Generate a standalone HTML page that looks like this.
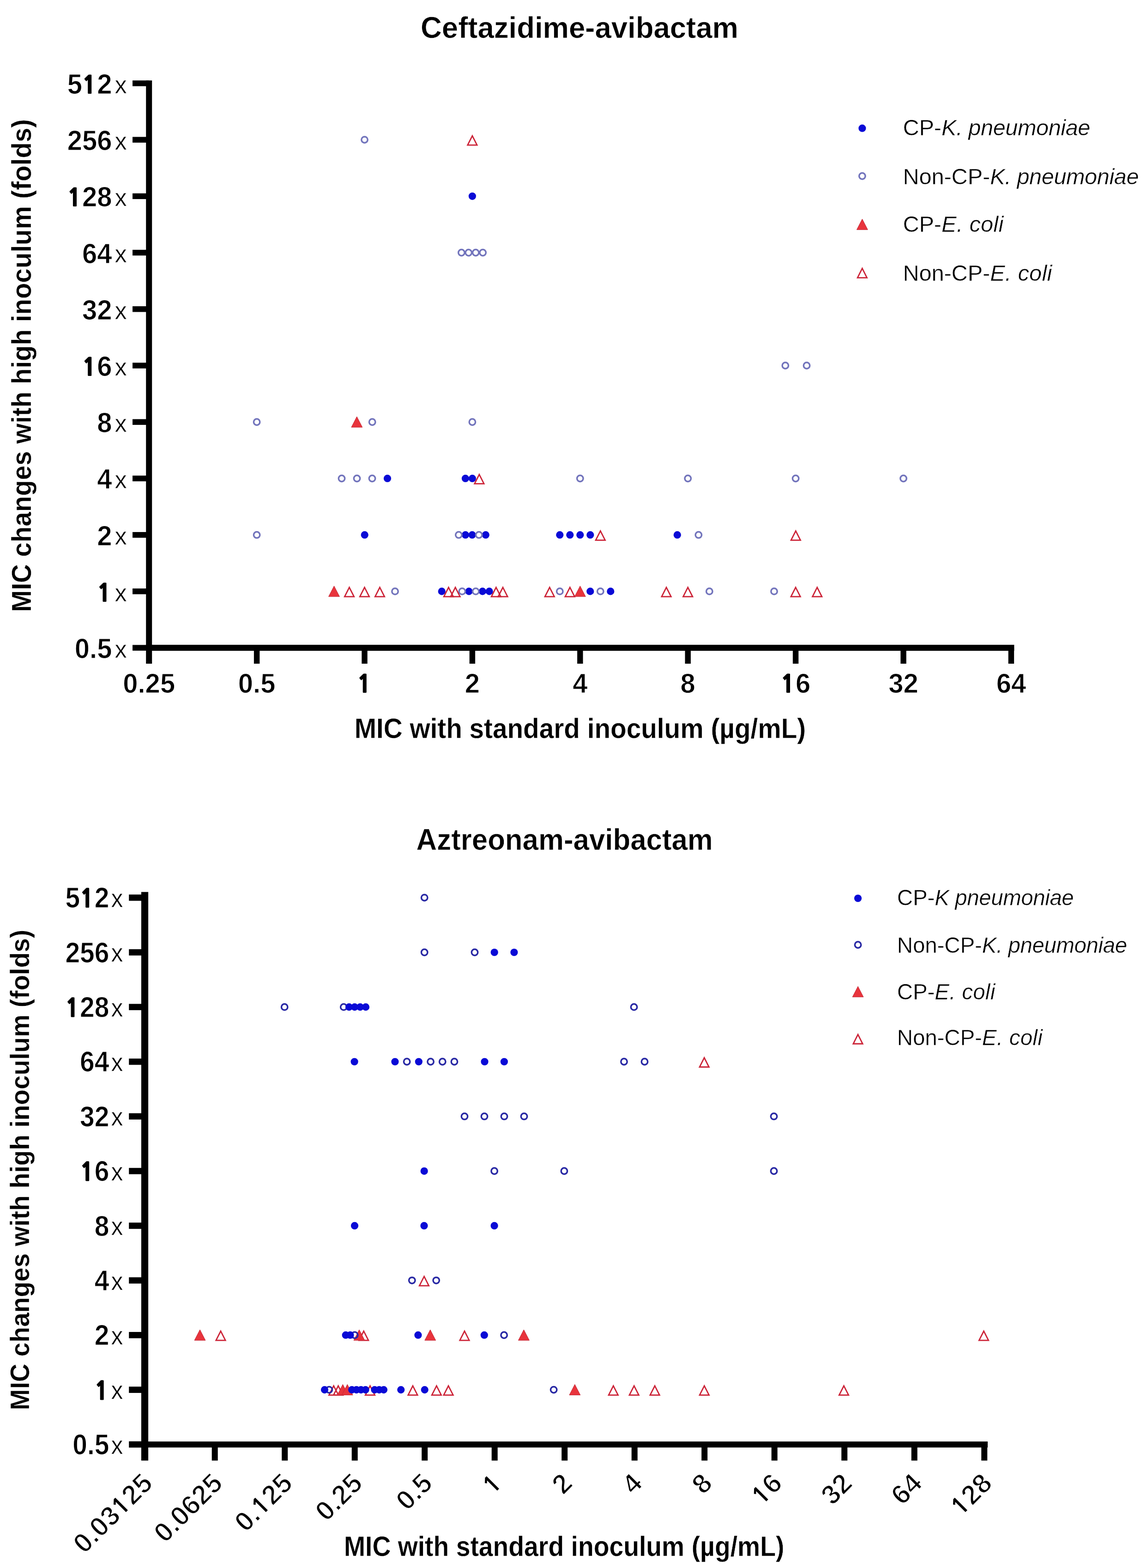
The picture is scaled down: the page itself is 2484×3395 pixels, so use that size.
<!DOCTYPE html>
<html><head><meta charset="utf-8"><title>MIC inoculum effect</title>
<style>
html,body{margin:0;padding:0;background:#fff;}
svg{display:block;}
svg text{font-family:'Liberation Sans', sans-serif;fill:#000;}
svg tspan.one{font-family:'NanumGothic','Liberation Sans',sans-serif;font-weight:800;stroke:#000;stroke-width:1.2px;letter-spacing:1.8px;baseline-shift:1.1px;}
svg tspan.one2{stroke:#fff;stroke-width:1.3px;}
</style></head>
<body>
<svg width="2484" height="3395" viewBox="0 0 2484 3395">
<rect width="2484" height="3395" fill="#fff"/>
<g id="plot1">
<text stroke="#fff" stroke-width="0.6" transform="translate(1255,81.9) scale(1,1.02)" font-size="63.5" font-weight="bold" text-anchor="middle">Ceftazidime-avibactam</text>
<text stroke="#fff" stroke-width="0.4" transform="translate(67,791.4) rotate(-90) scale(1,1.043)" font-size="56.5" font-weight="bold" text-anchor="middle">MIC changes with high inoculum (folds)</text>
<text stroke="#fff" stroke-width="0.4" transform="translate(1256.5,1598.2) scale(1,1.063)" font-size="56.7" font-weight="bold" text-anchor="middle">MIC with standard inoculum (µg/mL)</text>
<rect x="316.2" y="174.2" width="13" height="1262.8" fill="#000"/>
<rect x="316.2" y="1396.1" width="1880.2" height="13" fill="#000"/>
<rect x="287" y="1396.4" width="35.7" height="12.4" fill="#000"/>
<rect x="287" y="1274.18" width="35.7" height="12.4" fill="#000"/>
<rect x="287" y="1151.96" width="35.7" height="12.4" fill="#000"/>
<rect x="287" y="1029.74" width="35.7" height="12.4" fill="#000"/>
<rect x="287" y="907.52" width="35.7" height="12.4" fill="#000"/>
<rect x="287" y="785.3" width="35.7" height="12.4" fill="#000"/>
<rect x="287" y="663.08" width="35.7" height="12.4" fill="#000"/>
<rect x="287" y="540.86" width="35.7" height="12.4" fill="#000"/>
<rect x="287" y="418.64" width="35.7" height="12.4" fill="#000"/>
<rect x="287" y="296.42" width="35.7" height="12.4" fill="#000"/>
<rect x="287" y="174.2" width="35.7" height="12.4" fill="#000"/>
<rect x="549.9" y="1402" width="12.4" height="35" fill="#000"/>
<rect x="783.3" y="1402" width="12.4" height="35" fill="#000"/>
<rect x="1016.7" y="1402" width="12.4" height="35" fill="#000"/>
<rect x="1250.1" y="1402" width="12.4" height="35" fill="#000"/>
<rect x="1483.5" y="1402" width="12.4" height="35" fill="#000"/>
<rect x="1716.9" y="1402" width="12.4" height="35" fill="#000"/>
<rect x="1950.3" y="1402" width="12.4" height="35" fill="#000"/>
<rect x="2183.7" y="1402" width="12.4" height="35" fill="#000"/>
<text stroke="#fff" stroke-width="1" transform="translate(242.4,1425.1) scale(1,1.04)" font-size="58" font-weight="bold" text-anchor="end">0.5</text>
<text stroke="#fff" stroke-width="0.6" transform="translate(248.5,1423.9) scale(1,1.03)" font-size="52.5" font-weight="normal" text-anchor="start">x</text>
<text stroke="#fff" stroke-width="1" transform="translate(242.4,1302.88) scale(1,1.04)" font-size="58" font-weight="bold" text-anchor="end"><tspan class="one" font-size="50.17">1</tspan></text>
<text stroke="#fff" stroke-width="0.6" transform="translate(248.5,1301.68) scale(1,1.03)" font-size="52.5" font-weight="normal" text-anchor="start">x</text>
<text stroke="#fff" stroke-width="1" transform="translate(242.4,1180.66) scale(1,1.04)" font-size="58" font-weight="bold" text-anchor="end">2</text>
<text stroke="#fff" stroke-width="0.6" transform="translate(248.5,1179.46) scale(1,1.03)" font-size="52.5" font-weight="normal" text-anchor="start">x</text>
<text stroke="#fff" stroke-width="1" transform="translate(242.4,1058.44) scale(1,1.04)" font-size="58" font-weight="bold" text-anchor="end">4</text>
<text stroke="#fff" stroke-width="0.6" transform="translate(248.5,1057.24) scale(1,1.03)" font-size="52.5" font-weight="normal" text-anchor="start">x</text>
<text stroke="#fff" stroke-width="1" transform="translate(242.4,936.22) scale(1,1.04)" font-size="58" font-weight="bold" text-anchor="end">8</text>
<text stroke="#fff" stroke-width="0.6" transform="translate(248.5,935.02) scale(1,1.03)" font-size="52.5" font-weight="normal" text-anchor="start">x</text>
<text stroke="#fff" stroke-width="1" transform="translate(242.4,814) scale(1,1.04)" font-size="58" font-weight="bold" text-anchor="end"><tspan class="one" font-size="50.17">1</tspan>6</text>
<text stroke="#fff" stroke-width="0.6" transform="translate(248.5,812.8) scale(1,1.03)" font-size="52.5" font-weight="normal" text-anchor="start">x</text>
<text stroke="#fff" stroke-width="1" transform="translate(242.4,691.78) scale(1,1.04)" font-size="58" font-weight="bold" text-anchor="end">32</text>
<text stroke="#fff" stroke-width="0.6" transform="translate(248.5,690.58) scale(1,1.03)" font-size="52.5" font-weight="normal" text-anchor="start">x</text>
<text stroke="#fff" stroke-width="1" transform="translate(242.4,569.56) scale(1,1.04)" font-size="58" font-weight="bold" text-anchor="end">64</text>
<text stroke="#fff" stroke-width="0.6" transform="translate(248.5,568.36) scale(1,1.03)" font-size="52.5" font-weight="normal" text-anchor="start">x</text>
<text stroke="#fff" stroke-width="1" transform="translate(242.4,447.34) scale(1,1.04)" font-size="58" font-weight="bold" text-anchor="end"><tspan class="one" font-size="50.17">1</tspan>28</text>
<text stroke="#fff" stroke-width="0.6" transform="translate(248.5,446.14) scale(1,1.03)" font-size="52.5" font-weight="normal" text-anchor="start">x</text>
<text stroke="#fff" stroke-width="1" transform="translate(242.4,325.12) scale(1,1.04)" font-size="58" font-weight="bold" text-anchor="end">256</text>
<text stroke="#fff" stroke-width="0.6" transform="translate(248.5,323.92) scale(1,1.03)" font-size="52.5" font-weight="normal" text-anchor="start">x</text>
<text stroke="#fff" stroke-width="1" transform="translate(242.4,202.9) scale(1,1.04)" font-size="58" font-weight="bold" text-anchor="end">5<tspan class="one" font-size="50.17">1</tspan>2</text>
<text stroke="#fff" stroke-width="0.6" transform="translate(248.5,201.7) scale(1,1.03)" font-size="52.5" font-weight="normal" text-anchor="start">x</text>
<text stroke="#fff" stroke-width="1" transform="translate(322.7,1499.8) scale(1,1.035)" font-size="58" font-weight="bold" text-anchor="middle">0.25</text>
<text stroke="#fff" stroke-width="1" transform="translate(556.1,1499.8) scale(1,1.035)" font-size="58" font-weight="bold" text-anchor="middle">0.5</text>
<text stroke="#fff" stroke-width="1" transform="translate(789.5,1499.8) scale(1,1.035)" font-size="58" font-weight="bold" text-anchor="middle"><tspan class="one" font-size="50.17">1</tspan></text>
<text stroke="#fff" stroke-width="1" transform="translate(1022.9,1499.8) scale(1,1.035)" font-size="58" font-weight="bold" text-anchor="middle">2</text>
<text stroke="#fff" stroke-width="1" transform="translate(1256.3,1499.8) scale(1,1.035)" font-size="58" font-weight="bold" text-anchor="middle">4</text>
<text stroke="#fff" stroke-width="1" transform="translate(1489.7,1499.8) scale(1,1.035)" font-size="58" font-weight="bold" text-anchor="middle">8</text>
<text stroke="#fff" stroke-width="1" transform="translate(1723.1,1499.8) scale(1,1.035)" font-size="58" font-weight="bold" text-anchor="middle"><tspan class="one" font-size="50.17">1</tspan>6</text>
<text stroke="#fff" stroke-width="1" transform="translate(1956.5,1499.8) scale(1,1.035)" font-size="58" font-weight="bold" text-anchor="middle">32</text>
<text stroke="#fff" stroke-width="1" transform="translate(2189.9,1499.8) scale(1,1.035)" font-size="58" font-weight="bold" text-anchor="middle">64</text>
<circle cx="1022.9" cy="424.84" r="8.1" fill="#0a0ad6"/>
<circle cx="839" cy="1035.94" r="8.1" fill="#0a0ad6"/>
<circle cx="1007.9" cy="1035.94" r="8.1" fill="#0a0ad6"/>
<circle cx="1022.9" cy="1035.94" r="8.1" fill="#0a0ad6"/>
<circle cx="789.7" cy="1158.16" r="8.1" fill="#0a0ad6"/>
<circle cx="1008" cy="1158.16" r="8.1" fill="#0a0ad6"/>
<circle cx="1022.6" cy="1158.16" r="8.1" fill="#0a0ad6"/>
<circle cx="1051.8" cy="1158.16" r="8.1" fill="#0a0ad6"/>
<circle cx="1212.3" cy="1158.16" r="8.1" fill="#0a0ad6"/>
<circle cx="1234.3" cy="1158.16" r="8.1" fill="#0a0ad6"/>
<circle cx="1256.3" cy="1158.16" r="8.1" fill="#0a0ad6"/>
<circle cx="1278.3" cy="1158.16" r="8.1" fill="#0a0ad6"/>
<circle cx="1466.8" cy="1158.16" r="8.1" fill="#0a0ad6"/>
<circle cx="956.75" cy="1280.38" r="8.1" fill="#0a0ad6"/>
<circle cx="1015.55" cy="1280.38" r="8.1" fill="#0a0ad6"/>
<circle cx="1044.95" cy="1280.38" r="8.1" fill="#0a0ad6"/>
<circle cx="1059.65" cy="1280.38" r="8.1" fill="#0a0ad6"/>
<circle cx="1278.3" cy="1280.38" r="8.1" fill="#0a0ad6"/>
<circle cx="1322.3" cy="1280.38" r="8.1" fill="#0a0ad6"/>
<circle cx="789.5" cy="302.62" r="6.7" fill="none" stroke="#7274bc" stroke-width="3.5"/>
<circle cx="999.4" cy="547.06" r="6.7" fill="none" stroke="#7274bc" stroke-width="3.5"/>
<circle cx="1014.8" cy="547.06" r="6.7" fill="none" stroke="#7274bc" stroke-width="3.5"/>
<circle cx="1030.2" cy="547.06" r="6.7" fill="none" stroke="#7274bc" stroke-width="3.5"/>
<circle cx="1045.6" cy="547.06" r="6.7" fill="none" stroke="#7274bc" stroke-width="3.5"/>
<circle cx="1700.8" cy="791.5" r="6.7" fill="none" stroke="#7274bc" stroke-width="3.5"/>
<circle cx="1747" cy="791.5" r="6.7" fill="none" stroke="#7274bc" stroke-width="3.5"/>
<circle cx="556.1" cy="913.72" r="6.7" fill="none" stroke="#7274bc" stroke-width="3.5"/>
<circle cx="806.2" cy="913.72" r="6.7" fill="none" stroke="#7274bc" stroke-width="3.5"/>
<circle cx="1022.9" cy="913.72" r="6.7" fill="none" stroke="#7274bc" stroke-width="3.5"/>
<circle cx="740" cy="1035.94" r="6.7" fill="none" stroke="#7274bc" stroke-width="3.5"/>
<circle cx="773" cy="1035.94" r="6.7" fill="none" stroke="#7274bc" stroke-width="3.5"/>
<circle cx="806" cy="1035.94" r="6.7" fill="none" stroke="#7274bc" stroke-width="3.5"/>
<circle cx="1256.3" cy="1035.94" r="6.7" fill="none" stroke="#7274bc" stroke-width="3.5"/>
<circle cx="1489.7" cy="1035.94" r="6.7" fill="none" stroke="#7274bc" stroke-width="3.5"/>
<circle cx="1723.1" cy="1035.94" r="6.7" fill="none" stroke="#7274bc" stroke-width="3.5"/>
<circle cx="1956.5" cy="1035.94" r="6.7" fill="none" stroke="#7274bc" stroke-width="3.5"/>
<circle cx="556.1" cy="1158.16" r="6.7" fill="none" stroke="#7274bc" stroke-width="3.5"/>
<circle cx="993.4" cy="1158.16" r="6.7" fill="none" stroke="#7274bc" stroke-width="3.5"/>
<circle cx="1037.2" cy="1158.16" r="6.7" fill="none" stroke="#7274bc" stroke-width="3.5"/>
<circle cx="1512.8" cy="1158.16" r="6.7" fill="none" stroke="#7274bc" stroke-width="3.5"/>
<circle cx="855.5" cy="1280.38" r="6.7" fill="none" stroke="#7274bc" stroke-width="3.5"/>
<circle cx="1000.85" cy="1280.38" r="6.7" fill="none" stroke="#7274bc" stroke-width="3.5"/>
<circle cx="1030.25" cy="1280.38" r="6.7" fill="none" stroke="#7274bc" stroke-width="3.5"/>
<circle cx="1212.3" cy="1280.38" r="6.7" fill="none" stroke="#7274bc" stroke-width="3.5"/>
<circle cx="1300.3" cy="1280.38" r="6.7" fill="none" stroke="#7274bc" stroke-width="3.5"/>
<circle cx="1536.3" cy="1280.38" r="6.7" fill="none" stroke="#7274bc" stroke-width="3.5"/>
<circle cx="1676.5" cy="1280.38" r="6.7" fill="none" stroke="#7274bc" stroke-width="3.5"/>
<polygon points="1022.9,294.02 1033.1,314.12 1012.7,314.12" fill="none" stroke="#cc2438" stroke-width="2.8" stroke-linejoin="miter"/>
<polygon points="1037.9,1027.34 1048.1,1047.44 1027.7,1047.44" fill="none" stroke="#cc2438" stroke-width="2.8" stroke-linejoin="miter"/>
<polygon points="1300.3,1149.56 1310.5,1169.66 1290.1,1169.66" fill="none" stroke="#cc2438" stroke-width="2.8" stroke-linejoin="miter"/>
<polygon points="1723.3,1149.56 1733.5,1169.66 1713.1,1169.66" fill="none" stroke="#cc2438" stroke-width="2.8" stroke-linejoin="miter"/>
<polygon points="756.5,1271.78 766.7,1291.88 746.3,1291.88" fill="none" stroke="#cc2438" stroke-width="2.8" stroke-linejoin="miter"/>
<polygon points="789.5,1271.78 799.7,1291.88 779.3,1291.88" fill="none" stroke="#cc2438" stroke-width="2.8" stroke-linejoin="miter"/>
<polygon points="822.5,1271.78 832.7,1291.88 812.3,1291.88" fill="none" stroke="#cc2438" stroke-width="2.8" stroke-linejoin="miter"/>
<polygon points="971.45,1271.78 981.65,1291.88 961.25,1291.88" fill="none" stroke="#cc2438" stroke-width="2.8" stroke-linejoin="miter"/>
<polygon points="986.15,1271.78 996.35,1291.88 975.95,1291.88" fill="none" stroke="#cc2438" stroke-width="2.8" stroke-linejoin="miter"/>
<polygon points="1074.35,1271.78 1084.55,1291.88 1064.15,1291.88" fill="none" stroke="#cc2438" stroke-width="2.8" stroke-linejoin="miter"/>
<polygon points="1089.05,1271.78 1099.25,1291.88 1078.85,1291.88" fill="none" stroke="#cc2438" stroke-width="2.8" stroke-linejoin="miter"/>
<polygon points="1190.3,1271.78 1200.5,1291.88 1180.1,1291.88" fill="none" stroke="#cc2438" stroke-width="2.8" stroke-linejoin="miter"/>
<polygon points="1234.3,1271.78 1244.5,1291.88 1224.1,1291.88" fill="none" stroke="#cc2438" stroke-width="2.8" stroke-linejoin="miter"/>
<polygon points="1443.1,1271.78 1453.3,1291.88 1432.9,1291.88" fill="none" stroke="#cc2438" stroke-width="2.8" stroke-linejoin="miter"/>
<polygon points="1489.7,1271.78 1499.9,1291.88 1479.5,1291.88" fill="none" stroke="#cc2438" stroke-width="2.8" stroke-linejoin="miter"/>
<polygon points="1723.1,1271.78 1733.3,1291.88 1712.9,1291.88" fill="none" stroke="#cc2438" stroke-width="2.8" stroke-linejoin="miter"/>
<polygon points="1769.7,1271.78 1779.9,1291.88 1759.5,1291.88" fill="none" stroke="#cc2438" stroke-width="2.8" stroke-linejoin="miter"/>
<polygon points="772.8,902.12 784.7,925.12 760.9,925.12" fill="#e8343c" stroke="#c42a3a" stroke-width="1" stroke-linejoin="miter"/>
<polygon points="723.5,1268.78 735.4,1291.78 711.6,1291.78" fill="#e8343c" stroke="#c42a3a" stroke-width="1" stroke-linejoin="miter"/>
<polygon points="1256.3,1268.78 1268.2,1291.78 1244.4,1291.78" fill="#e8343c" stroke="#c42a3a" stroke-width="1" stroke-linejoin="miter"/>
<circle cx="1867.3" cy="277.7" r="8.1" fill="#0a0ad6"/>
<text stroke="#fff" stroke-width="0.5" transform="translate(1955.5,293.2)" font-size="48.5" font-weight="normal" text-anchor="start">CP-<tspan font-style="italic" letter-spacing="-0.33">K. pneumoniae</tspan></text>
<circle cx="1867.3" cy="381.3" r="6.7" fill="none" stroke="#7274bc" stroke-width="3.5"/>
<text stroke="#fff" stroke-width="0.5" transform="translate(1955.5,399.3)" font-size="48.5" font-weight="normal" text-anchor="start">Non-CP-<tspan font-style="italic" letter-spacing="-0.33">K. pneumoniae</tspan></text>
<polygon points="1867.3,474.3 1879.2,497.3 1855.4,497.3" fill="#e8343c" stroke="#c42a3a" stroke-width="1" stroke-linejoin="miter"/>
<text stroke="#fff" stroke-width="0.5" transform="translate(1955.5,502)" font-size="48.5" font-weight="normal" text-anchor="start">CP-<tspan font-style="italic" letter-spacing="0.35">E. coli</tspan></text>
<polygon points="1867.3,581.2 1877.5,601.3 1857.1,601.3" fill="none" stroke="#cc2438" stroke-width="2.8" stroke-linejoin="miter"/>
<text stroke="#fff" stroke-width="0.5" transform="translate(1955.5,607.5)" font-size="48.5" font-weight="normal" text-anchor="start">Non-CP-<tspan font-style="italic" letter-spacing="0.35">E. coli</tspan></text>
</g>
<g id="plot2">
<text stroke="#fff" stroke-width="0.6" transform="translate(1222.7,1840.3) scale(1,1.05)" font-size="61.8" font-weight="bold" text-anchor="middle">Aztreonam-avibactam</text>
<text stroke="#fff" stroke-width="0.4" transform="translate(62.7,2533.2) rotate(-90) scale(1,1.053)" font-size="55.1" font-weight="bold" text-anchor="middle">MIC changes with high inoculum (folds)</text>
<text stroke="#fff" stroke-width="0.4" transform="translate(1221.7,3368.7) scale(1,1.108)" font-size="55.3" font-weight="bold" text-anchor="middle">MIC with standard inoculum (µg/mL)</text>
<rect x="305.9" y="1931.3" width="15.2" height="1231.1" fill="#000"/>
<rect x="305.9" y="3121.1" width="1833.1" height="13" fill="#000"/>
<rect x="279.2" y="3120.7" width="26.8" height="13.6" fill="#000"/>
<rect x="279.2" y="3002.31" width="26.8" height="13.6" fill="#000"/>
<rect x="279.2" y="2883.92" width="26.8" height="13.6" fill="#000"/>
<rect x="279.2" y="2765.53" width="26.8" height="13.6" fill="#000"/>
<rect x="279.2" y="2647.14" width="26.8" height="13.6" fill="#000"/>
<rect x="279.2" y="2528.75" width="26.8" height="13.6" fill="#000"/>
<rect x="279.2" y="2410.36" width="26.8" height="13.6" fill="#000"/>
<rect x="279.2" y="2291.97" width="26.8" height="13.6" fill="#000"/>
<rect x="279.2" y="2173.58" width="26.8" height="13.6" fill="#000"/>
<rect x="279.2" y="2055.19" width="26.8" height="13.6" fill="#000"/>
<rect x="279.2" y="1936.8" width="26.8" height="13.6" fill="#000"/>
<rect x="458.7" y="3127" width="13" height="35.4" fill="#000"/>
<rect x="610.2" y="3127" width="13" height="35.4" fill="#000"/>
<rect x="761.7" y="3127" width="13" height="35.4" fill="#000"/>
<rect x="913.2" y="3127" width="13" height="35.4" fill="#000"/>
<rect x="1064.7" y="3127" width="13" height="35.4" fill="#000"/>
<rect x="1216.2" y="3127" width="13" height="35.4" fill="#000"/>
<rect x="1367.7" y="3127" width="13" height="35.4" fill="#000"/>
<rect x="1519.2" y="3127" width="13" height="35.4" fill="#000"/>
<rect x="1670.7" y="3127" width="13" height="35.4" fill="#000"/>
<rect x="1822.2" y="3127" width="13" height="35.4" fill="#000"/>
<rect x="1973.7" y="3127" width="13" height="35.4" fill="#000"/>
<rect x="2125.2" y="3127" width="13" height="35.4" fill="#000"/>
<text stroke="#fff" stroke-width="1" transform="translate(236.5,3149.2) scale(1,1.09)" font-size="57" font-weight="bold" text-anchor="end">0.5</text>
<text stroke="#fff" stroke-width="0.6" transform="translate(240.5,3147.8) scale(1,1.05)" font-size="52" font-weight="normal" text-anchor="start">x</text>
<text stroke="#fff" stroke-width="1" transform="translate(236.5,3030.81) scale(1,1.09)" font-size="57" font-weight="bold" text-anchor="end"><tspan class="one" font-size="49.3">1</tspan></text>
<text stroke="#fff" stroke-width="0.6" transform="translate(240.5,3029.41) scale(1,1.05)" font-size="52" font-weight="normal" text-anchor="start">x</text>
<text stroke="#fff" stroke-width="1" transform="translate(236.5,2912.42) scale(1,1.09)" font-size="57" font-weight="bold" text-anchor="end">2</text>
<text stroke="#fff" stroke-width="0.6" transform="translate(240.5,2911.02) scale(1,1.05)" font-size="52" font-weight="normal" text-anchor="start">x</text>
<text stroke="#fff" stroke-width="1" transform="translate(236.5,2794.03) scale(1,1.09)" font-size="57" font-weight="bold" text-anchor="end">4</text>
<text stroke="#fff" stroke-width="0.6" transform="translate(240.5,2792.63) scale(1,1.05)" font-size="52" font-weight="normal" text-anchor="start">x</text>
<text stroke="#fff" stroke-width="1" transform="translate(236.5,2675.64) scale(1,1.09)" font-size="57" font-weight="bold" text-anchor="end">8</text>
<text stroke="#fff" stroke-width="0.6" transform="translate(240.5,2674.24) scale(1,1.05)" font-size="52" font-weight="normal" text-anchor="start">x</text>
<text stroke="#fff" stroke-width="1" transform="translate(236.5,2557.25) scale(1,1.09)" font-size="57" font-weight="bold" text-anchor="end"><tspan class="one" font-size="49.3">1</tspan>6</text>
<text stroke="#fff" stroke-width="0.6" transform="translate(240.5,2555.85) scale(1,1.05)" font-size="52" font-weight="normal" text-anchor="start">x</text>
<text stroke="#fff" stroke-width="1" transform="translate(236.5,2438.86) scale(1,1.09)" font-size="57" font-weight="bold" text-anchor="end">32</text>
<text stroke="#fff" stroke-width="0.6" transform="translate(240.5,2437.46) scale(1,1.05)" font-size="52" font-weight="normal" text-anchor="start">x</text>
<text stroke="#fff" stroke-width="1" transform="translate(236.5,2320.47) scale(1,1.09)" font-size="57" font-weight="bold" text-anchor="end">64</text>
<text stroke="#fff" stroke-width="0.6" transform="translate(240.5,2319.07) scale(1,1.05)" font-size="52" font-weight="normal" text-anchor="start">x</text>
<text stroke="#fff" stroke-width="1" transform="translate(236.5,2202.08) scale(1,1.09)" font-size="57" font-weight="bold" text-anchor="end"><tspan class="one" font-size="49.3">1</tspan>28</text>
<text stroke="#fff" stroke-width="0.6" transform="translate(240.5,2200.68) scale(1,1.05)" font-size="52" font-weight="normal" text-anchor="start">x</text>
<text stroke="#fff" stroke-width="1" transform="translate(236.5,2083.69) scale(1,1.09)" font-size="57" font-weight="bold" text-anchor="end">256</text>
<text stroke="#fff" stroke-width="0.6" transform="translate(240.5,2082.29) scale(1,1.05)" font-size="52" font-weight="normal" text-anchor="start">x</text>
<text stroke="#fff" stroke-width="1" transform="translate(236.5,1965.3) scale(1,1.09)" font-size="57" font-weight="bold" text-anchor="end">5<tspan class="one" font-size="49.3">1</tspan>2</text>
<text stroke="#fff" stroke-width="0.6" transform="translate(240.5,1963.9) scale(1,1.05)" font-size="52" font-weight="normal" text-anchor="start">x</text>
<text stroke="#fff" stroke-width="2.2" transform="translate(334,3215) rotate(-45)" font-size="59.2" font-weight="bold" text-anchor="end">0.03<tspan class="one one2" font-size="51.21">1</tspan>25</text>
<text stroke="#fff" stroke-width="2.2" transform="translate(485.5,3215) rotate(-45)" font-size="59.2" font-weight="bold" text-anchor="end">0.0625</text>
<text stroke="#fff" stroke-width="2.2" transform="translate(637,3215) rotate(-45)" font-size="59.2" font-weight="bold" text-anchor="end">0.<tspan class="one one2" font-size="51.21">1</tspan>25</text>
<text stroke="#fff" stroke-width="2.2" transform="translate(788.5,3215) rotate(-45)" font-size="59.2" font-weight="bold" text-anchor="end">0.25</text>
<text stroke="#fff" stroke-width="2.2" transform="translate(940,3215) rotate(-45)" font-size="59.2" font-weight="bold" text-anchor="end">0.5</text>
<text stroke="#fff" stroke-width="2.2" transform="translate(1091.5,3215) rotate(-45)" font-size="59.2" font-weight="bold" text-anchor="end"><tspan class="one one2" font-size="51.21">1</tspan></text>
<text stroke="#fff" stroke-width="2.2" transform="translate(1243,3215) rotate(-45)" font-size="59.2" font-weight="bold" text-anchor="end">2</text>
<text stroke="#fff" stroke-width="2.2" transform="translate(1394.5,3215) rotate(-45)" font-size="59.2" font-weight="bold" text-anchor="end">4</text>
<text stroke="#fff" stroke-width="2.2" transform="translate(1546,3215) rotate(-45)" font-size="59.2" font-weight="bold" text-anchor="end">8</text>
<text stroke="#fff" stroke-width="2.2" transform="translate(1697.5,3215) rotate(-45)" font-size="59.2" font-weight="bold" text-anchor="end"><tspan class="one one2" font-size="51.21">1</tspan>6</text>
<text stroke="#fff" stroke-width="2.2" transform="translate(1849,3215) rotate(-45)" font-size="59.2" font-weight="bold" text-anchor="end">32</text>
<text stroke="#fff" stroke-width="2.2" transform="translate(2000.5,3215) rotate(-45)" font-size="59.2" font-weight="bold" text-anchor="end">64</text>
<text stroke="#fff" stroke-width="2.2" transform="translate(2152,3215) rotate(-45)" font-size="59.2" font-weight="bold" text-anchor="end"><tspan class="one one2" font-size="51.21">1</tspan>28</text>
<polygon points="1525.2,2290.17 1535.4,2310.27 1515,2310.27" fill="none" stroke="#cc2438" stroke-width="2.8" stroke-linejoin="miter"/>
<polygon points="918.5,2763.73 928.7,2783.83 908.3,2783.83" fill="none" stroke="#cc2438" stroke-width="2.8" stroke-linejoin="miter"/>
<polygon points="478,2882.12 488.2,2902.22 467.8,2902.22" fill="none" stroke="#cc2438" stroke-width="2.8" stroke-linejoin="miter"/>
<polygon points="787.7,2882.12 797.9,2902.22 777.5,2902.22" fill="none" stroke="#cc2438" stroke-width="2.8" stroke-linejoin="miter"/>
<polygon points="1006,2882.12 1016.2,2902.22 995.8,2902.22" fill="none" stroke="#cc2438" stroke-width="2.8" stroke-linejoin="miter"/>
<polygon points="2130.5,2882.12 2140.7,2902.22 2120.3,2902.22" fill="none" stroke="#cc2438" stroke-width="2.8" stroke-linejoin="miter"/>
<polygon points="722.67,3000.51 732.88,3020.61 712.47,3020.61" fill="none" stroke="#cc2438" stroke-width="2.8" stroke-linejoin="miter"/>
<polygon points="732.52,3000.51 742.73,3020.61 722.32,3020.61" fill="none" stroke="#cc2438" stroke-width="2.8" stroke-linejoin="miter"/>
<polygon points="801.48,3000.51 811.68,3020.61 791.27,3020.61" fill="none" stroke="#cc2438" stroke-width="2.8" stroke-linejoin="miter"/>
<polygon points="894,3000.51 904.2,3020.61 883.8,3020.61" fill="none" stroke="#cc2438" stroke-width="2.8" stroke-linejoin="miter"/>
<polygon points="945.4,3000.51 955.6,3020.61 935.2,3020.61" fill="none" stroke="#cc2438" stroke-width="2.8" stroke-linejoin="miter"/>
<polygon points="971.1,3000.51 981.3,3020.61 960.9,3020.61" fill="none" stroke="#cc2438" stroke-width="2.8" stroke-linejoin="miter"/>
<polygon points="1328.3,3000.51 1338.5,3020.61 1318.1,3020.61" fill="none" stroke="#cc2438" stroke-width="2.8" stroke-linejoin="miter"/>
<polygon points="1373.2,3000.51 1383.4,3020.61 1363,3020.61" fill="none" stroke="#cc2438" stroke-width="2.8" stroke-linejoin="miter"/>
<polygon points="1418.1,3000.51 1428.3,3020.61 1407.9,3020.61" fill="none" stroke="#cc2438" stroke-width="2.8" stroke-linejoin="miter"/>
<polygon points="1525.3,3000.51 1535.5,3020.61 1515.1,3020.61" fill="none" stroke="#cc2438" stroke-width="2.8" stroke-linejoin="miter"/>
<polygon points="1827.5,3000.51 1837.7,3020.61 1817.3,3020.61" fill="none" stroke="#cc2438" stroke-width="2.8" stroke-linejoin="miter"/>
<polygon points="433,2879.12 444.9,2902.12 421.1,2902.12" fill="#e8343c" stroke="#c42a3a" stroke-width="1" stroke-linejoin="miter"/>
<polygon points="777.95,2879.12 789.85,2902.12 766.05,2902.12" fill="#e8343c" stroke="#c42a3a" stroke-width="1" stroke-linejoin="miter"/>
<polygon points="931.75,2879.12 943.65,2902.12 919.85,2902.12" fill="#e8343c" stroke="#c42a3a" stroke-width="1" stroke-linejoin="miter"/>
<polygon points="1134.4,2879.12 1146.3,2902.12 1122.5,2902.12" fill="#e8343c" stroke="#c42a3a" stroke-width="1" stroke-linejoin="miter"/>
<polygon points="742.38,2997.51 754.27,3020.51 730.48,3020.51" fill="#e8343c" stroke="#c42a3a" stroke-width="1" stroke-linejoin="miter"/>
<polygon points="752.23,2997.51 764.12,3020.51 740.33,3020.51" fill="#e8343c" stroke="#c42a3a" stroke-width="1" stroke-linejoin="miter"/>
<polygon points="1244.85,2997.51 1256.75,3020.51 1232.95,3020.51" fill="#e8343c" stroke="#c42a3a" stroke-width="1" stroke-linejoin="miter"/>
<circle cx="919.2" cy="1943.6" r="6.7" fill="none" stroke="#2828a4" stroke-width="3.5"/>
<circle cx="919.2" cy="2061.99" r="6.7" fill="none" stroke="#2828a4" stroke-width="3.5"/>
<circle cx="1028" cy="2061.99" r="6.7" fill="none" stroke="#2828a4" stroke-width="3.5"/>
<circle cx="616.2" cy="2180.38" r="6.7" fill="none" stroke="#2828a4" stroke-width="3.5"/>
<circle cx="744.3" cy="2180.38" r="6.7" fill="none" stroke="#2828a4" stroke-width="3.5"/>
<circle cx="1373" cy="2180.38" r="6.7" fill="none" stroke="#2828a4" stroke-width="3.5"/>
<circle cx="881.15" cy="2298.77" r="6.7" fill="none" stroke="#2828a4" stroke-width="3.5"/>
<circle cx="932.55" cy="2298.77" r="6.7" fill="none" stroke="#2828a4" stroke-width="3.5"/>
<circle cx="958.25" cy="2298.77" r="6.7" fill="none" stroke="#2828a4" stroke-width="3.5"/>
<circle cx="983.95" cy="2298.77" r="6.7" fill="none" stroke="#2828a4" stroke-width="3.5"/>
<circle cx="1351.45" cy="2298.77" r="6.7" fill="none" stroke="#2828a4" stroke-width="3.5"/>
<circle cx="1395.95" cy="2298.77" r="6.7" fill="none" stroke="#2828a4" stroke-width="3.5"/>
<circle cx="1006" cy="2417.16" r="6.7" fill="none" stroke="#2828a4" stroke-width="3.5"/>
<circle cx="1049" cy="2417.16" r="6.7" fill="none" stroke="#2828a4" stroke-width="3.5"/>
<circle cx="1092" cy="2417.16" r="6.7" fill="none" stroke="#2828a4" stroke-width="3.5"/>
<circle cx="1135" cy="2417.16" r="6.7" fill="none" stroke="#2828a4" stroke-width="3.5"/>
<circle cx="1676" cy="2417.16" r="6.7" fill="none" stroke="#2828a4" stroke-width="3.5"/>
<circle cx="1070.6" cy="2535.55" r="6.7" fill="none" stroke="#2828a4" stroke-width="3.5"/>
<circle cx="1221.9" cy="2535.55" r="6.7" fill="none" stroke="#2828a4" stroke-width="3.5"/>
<circle cx="1676" cy="2535.55" r="6.7" fill="none" stroke="#2828a4" stroke-width="3.5"/>
<circle cx="892.3" cy="2772.33" r="6.7" fill="none" stroke="#2828a4" stroke-width="3.5"/>
<circle cx="944.7" cy="2772.33" r="6.7" fill="none" stroke="#2828a4" stroke-width="3.5"/>
<circle cx="768.2" cy="2890.72" r="6.7" fill="none" stroke="#2828a4" stroke-width="3.5"/>
<circle cx="1091.6" cy="2890.72" r="6.7" fill="none" stroke="#2828a4" stroke-width="3.5"/>
<circle cx="712.83" cy="3009.11" r="6.7" fill="none" stroke="#2828a4" stroke-width="3.5"/>
<circle cx="1199.15" cy="3009.11" r="6.7" fill="none" stroke="#2828a4" stroke-width="3.5"/>
<circle cx="1070.7" cy="2061.99" r="8.1" fill="#0a0ad6"/>
<circle cx="1113.4" cy="2061.99" r="8.1" fill="#0a0ad6"/>
<circle cx="756" cy="2180.38" r="8.1" fill="#0a0ad6"/>
<circle cx="768" cy="2180.38" r="8.1" fill="#0a0ad6"/>
<circle cx="780" cy="2180.38" r="8.1" fill="#0a0ad6"/>
<circle cx="792" cy="2180.38" r="8.1" fill="#0a0ad6"/>
<circle cx="767.6" cy="2298.77" r="8.1" fill="#0a0ad6"/>
<circle cx="855.45" cy="2298.77" r="8.1" fill="#0a0ad6"/>
<circle cx="906.85" cy="2298.77" r="8.1" fill="#0a0ad6"/>
<circle cx="1049.5" cy="2298.77" r="8.1" fill="#0a0ad6"/>
<circle cx="1091.9" cy="2298.77" r="8.1" fill="#0a0ad6"/>
<circle cx="918.7" cy="2535.55" r="8.1" fill="#0a0ad6"/>
<circle cx="768" cy="2653.94" r="8.1" fill="#0a0ad6"/>
<circle cx="918.5" cy="2653.94" r="8.1" fill="#0a0ad6"/>
<circle cx="1070.6" cy="2653.94" r="8.1" fill="#0a0ad6"/>
<circle cx="748.7" cy="2890.72" r="8.1" fill="#0a0ad6"/>
<circle cx="758.45" cy="2890.72" r="8.1" fill="#0a0ad6"/>
<circle cx="905.45" cy="2890.72" r="8.1" fill="#0a0ad6"/>
<circle cx="1048.8" cy="2890.72" r="8.1" fill="#0a0ad6"/>
<circle cx="702.98" cy="3009.11" r="8.1" fill="#0a0ad6"/>
<circle cx="762.08" cy="3009.11" r="8.1" fill="#0a0ad6"/>
<circle cx="771.92" cy="3009.11" r="8.1" fill="#0a0ad6"/>
<circle cx="781.77" cy="3009.11" r="8.1" fill="#0a0ad6"/>
<circle cx="791.62" cy="3009.11" r="8.1" fill="#0a0ad6"/>
<circle cx="811.33" cy="3009.11" r="8.1" fill="#0a0ad6"/>
<circle cx="821.17" cy="3009.11" r="8.1" fill="#0a0ad6"/>
<circle cx="831.02" cy="3009.11" r="8.1" fill="#0a0ad6"/>
<circle cx="868.3" cy="3009.11" r="8.1" fill="#0a0ad6"/>
<circle cx="919.7" cy="3009.11" r="8.1" fill="#0a0ad6"/>
<circle cx="1858" cy="1945" r="8.1" fill="#0a0ad6"/>
<text stroke="#fff" stroke-width="0.5" transform="translate(1942.8,1960)" font-size="47.3" font-weight="normal" text-anchor="start">CP-<tspan font-style="italic" letter-spacing="-0.33">K pneumoniae</tspan></text>
<circle cx="1858" cy="2045.8" r="6.7" fill="none" stroke="#2828a4" stroke-width="3.5"/>
<text stroke="#fff" stroke-width="0.5" transform="translate(1942.8,2063.3)" font-size="47.3" font-weight="normal" text-anchor="start">Non-CP-<tspan font-style="italic" letter-spacing="-0.33">K. pneumoniae</tspan></text>
<polygon points="1858,2135.7 1869.9,2158.7 1846.1,2158.7" fill="#e8343c" stroke="#c42a3a" stroke-width="1" stroke-linejoin="miter"/>
<text stroke="#fff" stroke-width="0.5" transform="translate(1942.8,2163.6)" font-size="47.3" font-weight="normal" text-anchor="start">CP-<tspan font-style="italic" letter-spacing="0.35">E. coli</tspan></text>
<polygon points="1858,2239.9 1868.2,2260 1847.8,2260" fill="none" stroke="#cc2438" stroke-width="2.8" stroke-linejoin="miter"/>
<text stroke="#fff" stroke-width="0.5" transform="translate(1942.8,2263.4)" font-size="47.3" font-weight="normal" text-anchor="start">Non-CP-<tspan font-style="italic" letter-spacing="0.35">E. coli</tspan></text>
</g>
</svg>
</body></html>
